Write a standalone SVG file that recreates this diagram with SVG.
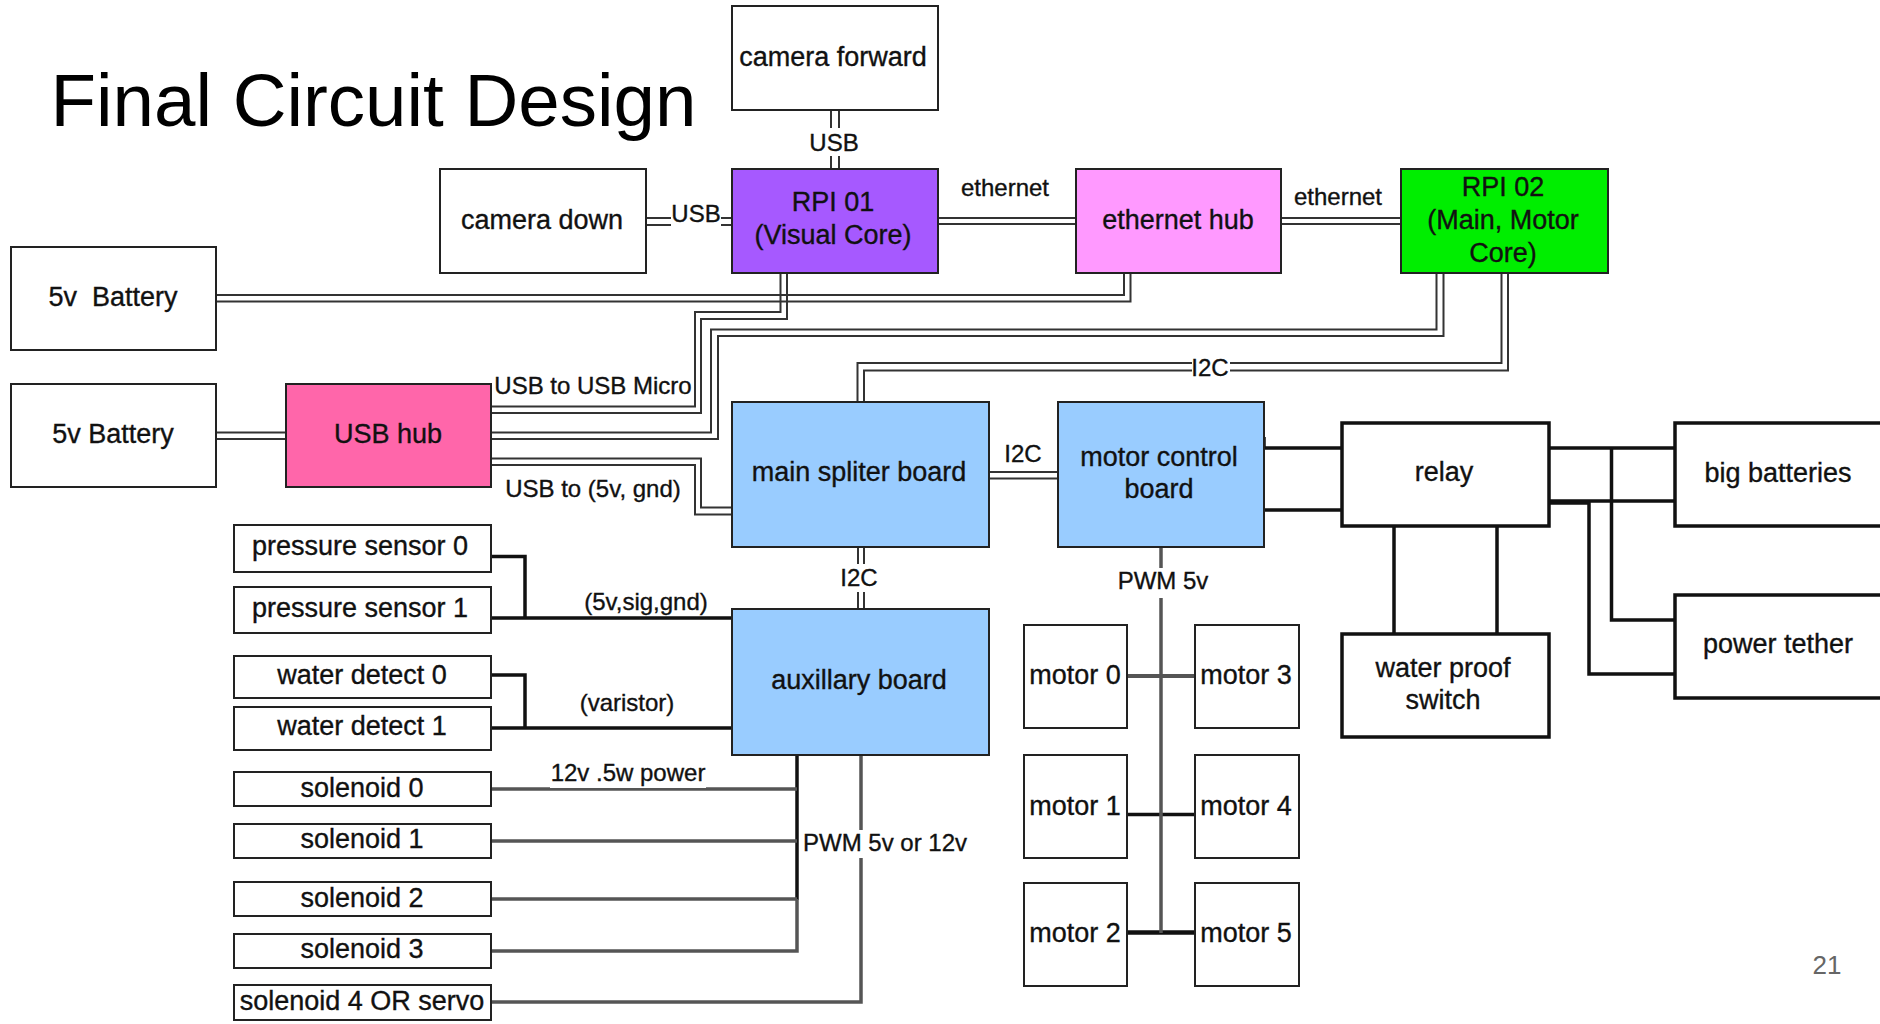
<svg xmlns="http://www.w3.org/2000/svg" width="1880" height="1024" viewBox="0 0 1880 1024">
<style>
text{font-family:"Liberation Sans",Arial,sans-serif;fill:#111;stroke:#111;stroke-width:.35;text-anchor:middle;font-size:27px}
.l{font-size:24px}
.t{font-size:74.500px;text-anchor:start;fill:#000;stroke:none}
.n{font-size:26px;fill:#666;stroke:none}
.b{stroke:#222;stroke-width:2;fill:#fff}
.h{stroke:#111;stroke-width:3.5;fill:#fff}
.d path{fill:none;stroke:#333;stroke-width:2}
.k path{fill:none;stroke:#111;stroke-width:3.5}
.g path{fill:none;stroke:#555;stroke-width:3.5}
.w{fill:#fff;stroke:none}
</style>
<rect width="1880" height="1024" fill="#fff"/>
<text class="t" x="50.500" y="126">Final Circuit Design</text>
<g id="connectors">
<g class="d">
<path d="M831 110V169M839 110V169"/>
<path d="M646 218H732M646 225H732"/>
<path d="M938 218H1076M938 224H1076"/>
<path d="M1281 218H1402M1281 224H1402"/>
<path d="M1124 273V295H216M1130.500 273V301.500H216"/>
<path d="M780.500 273V312H695V406.500H491M787 273V319H701V413H491"/>
<path d="M1436.500 273V329.500H711V432.500H491M1443.500 273V336H718V439H491"/>
<path d="M1501.500 273V363H857.500V402M1508 273V370.500H864V402"/>
<path d="M491 458.500H701V507.500H732M491 465H695V514.500H732"/>
<path d="M216 432.500H286M216 439H286"/>
<path d="M989 472H1058M989 478.500H1058"/>
<path d="M858 547V609M864 547V609"/>
</g>
<g class="k">
<path d="M1264 448H1342M1264 510H1342M1264 437V448"/>
<path d="M1550 448H1675M1550 501H1675M1611.500 448V620H1675M1550 503H1589V674H1675"/>
<path d="M1394 526V634M1497 526V634"/>
<path d="M491 556.500H525V618M491 618H732"/>
<path d="M491 675H525V728M491 728H732"/>
<path d="M797 756V900"/>
<path d="M1127 814.500H1195"/>
<path d="M1127 932.500H1195" style="stroke-width:4.500"/>
</g>
<g class="g">
<path d="M1161 547V933"/>
<path d="M491 789H797M491 841H797M491 899H797M491 951H797V899"/>
<path d="M861 756V1002H491"/>
<path d="M1127 676H1195" style="stroke-width:4"/>
</g>
</g>
<g id="camera-forward"><rect class="b" x="732" y="6" width="206" height="104"/><text x="833" y="66">camera forward</text></g>
<g id="camera-down"><rect class="b" x="440" y="169" width="206" height="104"/><text x="542" y="229">camera down</text></g>
<g id="rpi01"><rect class="b" x="732" y="169" width="206" height="104" style="fill:#a659ff"/><text x="833" y="211">RPI 01</text><text x="833" y="244">(Visual Core)</text></g>
<g id="ethernet-hub"><rect class="b" x="1076" y="169" width="205" height="104" style="fill:#ff99ff"/><text x="1178" y="229">ethernet hub</text></g>
<g id="rpi02"><rect class="b" x="1401" y="169" width="207" height="104" style="fill:#00ee00"/><text x="1503" y="196">RPI 02</text><text x="1503" y="229">(Main, Motor</text><text x="1503" y="262">Core)</text></g>
<g id="battery-1"><rect class="b" x="11" y="247" width="205" height="103"/><text x="113" y="306" xml:space="preserve">5v  Battery</text></g>
<g id="battery-2"><rect class="b" x="11" y="384" width="205" height="103"/><text x="113" y="443">5v Battery</text></g>
<g id="usb-hub"><rect class="b" x="286" y="384" width="205" height="103" style="fill:#ff66aa"/><text x="388" y="443">USB hub</text></g>
<g id="main-board"><rect class="b" x="732" y="402" width="257" height="145" style="fill:#99ccff"/><text x="859" y="481">main spliter board</text></g>
<g id="motor-board"><rect class="b" x="1058" y="402" width="206" height="145" style="fill:#99ccff"/><text x="1159" y="466">motor control</text><text x="1159" y="498">board</text></g>
<g id="relay"><rect class="h" x="1342" y="423" width="207" height="103"/><text x="1444" y="481">relay</text></g>
<g id="water-switch"><rect class="h" x="1342" y="634" width="207" height="103"/><text x="1443" y="677">water proof</text><text x="1443" y="709">switch</text></g>
<g id="big-batteries"><rect class="h" x="1675" y="423" width="215" height="103"/><text x="1778" y="482">big batteries</text></g>
<g id="power-tether"><rect class="h" x="1675" y="595" width="215" height="103"/><text x="1778" y="653">power tether</text></g>
<g id="aux-board"><rect class="b" x="732" y="609" width="257" height="146" style="fill:#99ccff"/><text x="859" y="689">auxillary board</text></g>
<g id="pressure-0"><rect class="b" x="234" y="525" width="257" height="47"/><text x="360" y="555">pressure sensor 0</text></g>
<g id="pressure-1"><rect class="b" x="234" y="587" width="257" height="46"/><text x="360" y="617">pressure sensor 1</text></g>
<g id="water-0"><rect class="b" x="234" y="656" width="257" height="42"/><text x="362" y="684">water detect 0</text></g>
<g id="water-1"><rect class="b" x="234" y="707" width="257" height="43"/><text x="362" y="735">water detect 1</text></g>
<g id="solenoid-0"><rect class="b" x="234" y="772" width="257" height="34"/><text x="362" y="797">solenoid 0</text></g>
<g id="solenoid-1"><rect class="b" x="234" y="824" width="257" height="34"/><text x="362" y="848">solenoid 1</text></g>
<g id="solenoid-2"><rect class="b" x="234" y="882" width="257" height="34"/><text x="362" y="907">solenoid 2</text></g>
<g id="solenoid-3"><rect class="b" x="234" y="934" width="257" height="34"/><text x="362" y="958">solenoid 3</text></g>
<g id="solenoid-4"><rect class="b" x="234" y="985" width="257" height="35"/><text x="362" y="1010">solenoid 4 OR servo</text></g>
<g id="motor-0"><rect class="b" x="1024" y="625" width="103" height="103"/><text x="1075" y="684">motor 0</text></g>
<g id="motor-3"><rect class="b" x="1195" y="625" width="104" height="103"/><text x="1246" y="684">motor 3</text></g>
<g id="motor-1"><rect class="b" x="1024" y="755" width="103" height="103"/><text x="1075" y="815">motor 1</text></g>
<g id="motor-4"><rect class="b" x="1195" y="755" width="104" height="103"/><text x="1246" y="815">motor 4</text></g>
<g id="motor-2"><rect class="b" x="1024" y="883" width="103" height="103"/><text x="1075" y="942">motor 2</text></g>
<g id="motor-5"><rect class="b" x="1195" y="883" width="104" height="103"/><text x="1246" y="942">motor 5</text></g>
<g id="labels">
<rect class="w" x="808" y="128" width="50" height="28"/><text class="l" x="834" y="151">USB</text>
<rect class="w" x="671" y="202" width="50" height="26"/><text class="l" x="696" y="222">USB</text>
<text class="l" x="1005" y="196">ethernet</text>
<text class="l" x="1338" y="205">ethernet</text>
<text class="l" x="593" y="394">USB to USB Micro</text>
<text class="l" x="593" y="497">USB to (5v, gnd)</text>
<rect class="w" x="1192" y="355" width="38" height="26"/><text class="l" x="1210" y="376">I2C</text>
<text class="l" x="1023" y="462">I2C</text>
<rect class="w" x="838" y="564" width="40" height="28"/><text class="l" x="859" y="586">I2C</text>
<text class="l" x="646" y="610">(5v,sig,gnd)</text>
<text class="l" x="627" y="711">(varistor)</text>
<rect class="w" x="550" y="760" width="156" height="28"/><text class="l" x="628" y="781">12v .5w power</text>
<rect class="w" x="804" y="830" width="164" height="28"/><text class="l" x="885" y="851">PWM 5v or 12v</text>
<rect class="w" x="1116" y="568" width="92" height="30"/><text class="l" x="1163" y="589">PWM 5v</text>
</g>
<text class="n" x="1827" y="974">21</text>
</svg>
